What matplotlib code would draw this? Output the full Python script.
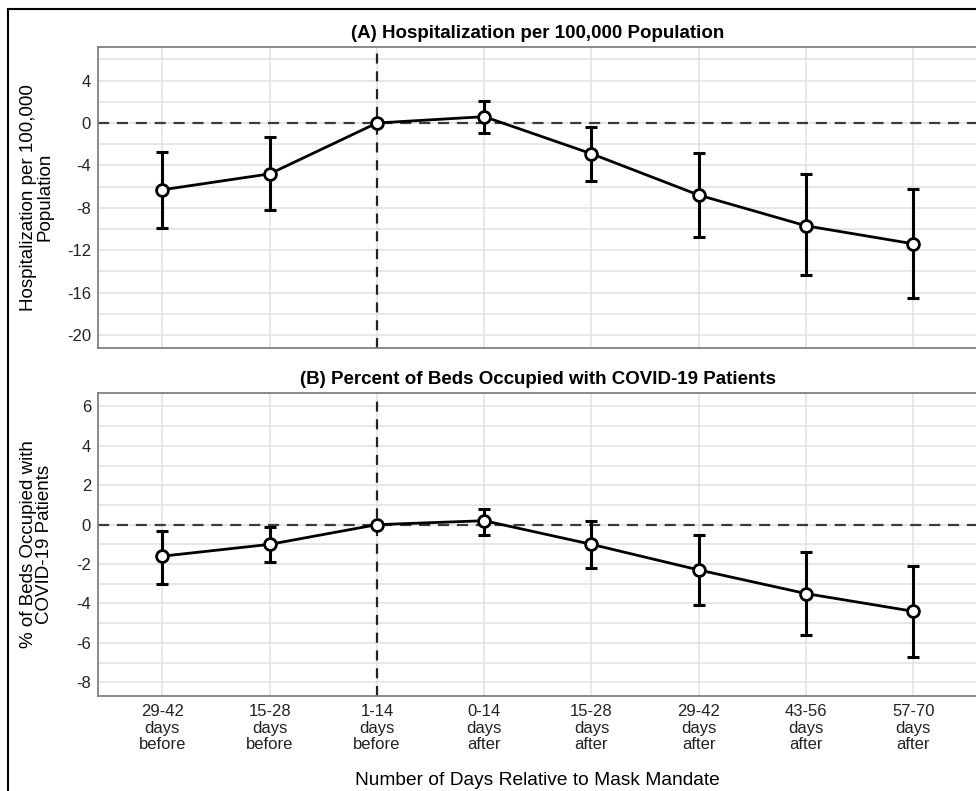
import numpy as np
import matplotlib.pyplot as plt
from matplotlib.lines import Line2D
from matplotlib.ticker import MultipleLocator

plt.rcParams['font.family'] = ['Liberation Sans', 'DejaVu Sans']
plt.rcParams['axes.unicode_minus'] = False

periods = ['29-42\ndays\nbefore', '15-28\ndays\nbefore', '1-14\ndays\nbefore', '0-14\ndays\nafter',
           '15-28\ndays\nafter', '29-42\ndays\nafter', '43-56\ndays\nafter', '57-70\ndays\nafter']

# panel A: hospitalization per 100,000
hosp = [-6.3, -4.8, 0.0, 0.6, -2.9, -6.8, -9.7, -11.4]
hosp_lo = [-9.9, -8.2, 0.0, -0.9, -5.5, -10.8, -14.3, -16.5]
hosp_hi = [-2.7, -1.3, 0.0, 2.1, -0.4, -2.8, -4.8, -6.2]

# panel B: percent of beds occupied with COVID-19 patients
beds = [-1.6, -1.0, 0.0, 0.2, -1.0, -2.3, -3.5, -4.4]
beds_lo = [-3.0, -1.9, 0.0, -0.5, -2.2, -4.1, -5.6, -6.7]
beds_hi = [-0.3, -0.1, 0.0, 0.8, 0.2, -0.5, -1.4, -2.1]

W, H = 976, 791
fig = plt.figure(figsize=(W / 100, H / 100), dpi=100)

def px(x0, y0, x1, y1):
    return [x0 / W, 1 - y1 / H, (x1 - x0) / W, (y1 - y0) / H]

def panel(rect, y, lo, hi, ylim, major, minor, title, ylabel, show_x):
    ax = fig.add_axes(rect)
    x = np.arange(1, len(y) + 1)
    y = np.array(y)
    err = [y - np.array(lo), np.array(hi) - y]
    ax.set_xlim(0.4, 8.6)
    ax.set_ylim(*ylim)
    ax.yaxis.set_major_locator(MultipleLocator(major))
    ax.yaxis.set_minor_locator(MultipleLocator(minor))
    ax.set_xticks(x)
    ax.grid(True, which='both', color='#e0e0e0', lw=1.1, zorder=0)
    ax.axhline(0, color='#3a3a3a', lw=1.6, ls=(0, (5, 3.5)), zorder=2)
    ax.axvline(3, color='#222222', lw=1.6, ls=(0, (4.5, 3.5)), zorder=2)
    ax.errorbar(x, y, yerr=err, fmt='none', ecolor='black', elinewidth=2.2,
                capsize=4, capthick=2.2, zorder=3)
    ax.plot(x, y, color='black', lw=2, marker='o', ms=8.5, mfc='white',
            mec='black', mew=2, zorder=4)
    for s in ax.spines.values():
        s.set_color('#808080')
        s.set_linewidth(1.3)
    ax.tick_params(which='both', length=0, labelsize=12, pad=6, colors='#222222')
    ax.tick_params(axis='y', pad=5)
    if show_x:
        ax.set_xticklabels(periods, linespacing=1.12)
    else:
        ax.set_xticklabels([])
    ax.set_title(title, fontsize=13.5, fontweight='bold', pad=6)
    ax.set_ylabel(ylabel, fontsize=13.5, linespacing=0.9)
    ax.yaxis.set_label_coords(-0.051, 0.5)
    return ax

panel(px(98, 46.7, 977.7, 347.7), hosp, hosp_lo, hosp_hi, (-21.2, 7.2), 4, 2,
      '(A) Hospitalization per 100,000 Population',
      'Hospitalization per 100,000\nPopulation', False)
axb = panel(px(98, 392.7, 977.7, 696), beds, beds_lo, beds_hi, (-8.7, 6.7), 2, 1,
            '(B) Percent of Beds Occupied with COVID-19 Patients',
            '% of Beds Occupied with\nCOVID-19 Patients', True)
axb.set_xlabel('Number of Days Relative to Mask Mandate', fontsize=13.8, labelpad=14)

# outer frame of the original figure (cropped on right and bottom)
fig.add_artist(Line2D([8 / W, 8 / W], [0, 1 - 9 / H], color='black', lw=1.5))
fig.add_artist(Line2D([8 / W, 1], [1 - 9 / H, 1 - 9 / H], color='black', lw=1.5))

fig.savefig('out.png', dpi=100)
